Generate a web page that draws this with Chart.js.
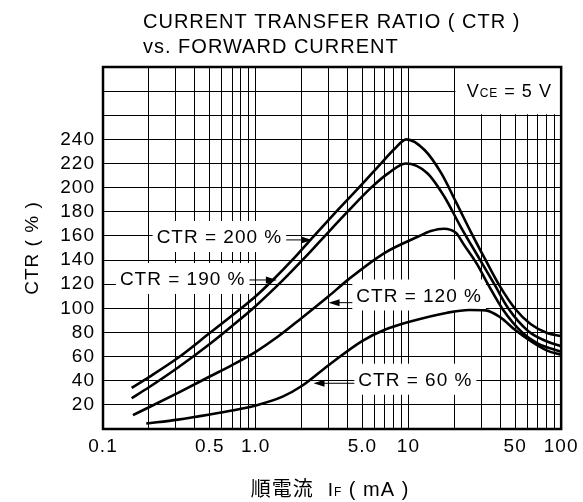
<!DOCTYPE html>
<html>
<head>
<meta charset="utf-8">
<script src="https://cdn.jsdelivr.net/npm/chart.js@4.4.1/dist/chart.umd.min.js"></script>
<style>
  html, body { margin: 0; padding: 0; background: #fff; }
  canvas { display: block; }
</style>
</head>
<body>
<canvas id="ctrChart" width="583" height="502"></canvas>
<script>
// curva "CTR = 200 %" (IF em mA, CTR em %)
const ifA  = [0.154, 0.2, 0.31, 0.5, 0.7, 1.0, 1.32, 1.75, 2.29, 3.39, 4.82, 6.6, 8.1, 9.7, 12.8, 16.4, 20.5, 25.7, 31.4, 39.4, 50.4, 63, 81, 100];
const ctrA = [34, 43, 59, 79.5, 94, 110, 124.5, 140.5, 157, 180.5, 201, 220, 232, 240, 231, 212, 188, 163, 142, 119, 99, 87, 79.5, 77];

// curva "CTR = 190 %"
const ifB  = [0.154, 0.2, 0.31, 0.5, 0.7, 1.0, 1.53, 2.05, 2.64, 4.04, 5.7, 7.4, 9.6, 13.3, 17.2, 21.9, 29.5, 36.5, 45, 61, 81, 100];
const ctrB = [25.5, 34.6, 51, 70.5, 85.4, 102, 124.2, 140.8, 155.7, 180.7, 200, 212, 220, 212, 192.5, 168, 140, 120, 100, 81, 72.5, 68.5];

// curva "CTR = 120 %"
const ifC  = [0.157, 0.2, 0.31, 0.5, 0.7, 1.0, 1.4, 2.0, 3.0, 4.05, 7.0, 11.6, 14, 17, 20.5, 23, 28, 33.5, 41.3, 55.6, 70, 100];
const ctrC = [11.5, 18, 30, 43.5, 53, 64, 76.6, 92, 110, 124, 146, 159.5, 164, 166, 162.5, 153, 137, 119, 99.5, 80, 71, 64];

// curva "CTR = 60 %"
const ifD  = [0.192, 0.31, 0.5, 0.7, 1.0, 1.5, 2.0, 3.0, 5.0, 7.0, 10, 18, 25, 32, 40, 50, 63, 81, 100];
const ctrD = [4.5, 7.8, 12, 15.3, 19.5, 26.8, 35.6, 52.9, 73.1, 82.2, 88.6, 96.4, 98.6, 98.3, 92.5, 82, 73, 65, 61.5];

const curveNames = ['CTR = 200 %', 'CTR = 190 %', 'CTR = 120 %', 'CTR = 60 %'];

// eixos
const xTickValues = [0.1, 0.5, 1, 5, 10, 50, 100];
const xTickLabels = ['0.1', '0.5', '1.0', '5.0', '10', '50', '100'];
const yTickLabels = [20, 40, 60, 80, 100, 120, 140, 160, 180, 200, 220, 240];

// rótulos das curvas: início do texto e ponta da seta, em coordenadas do gráfico
const labelAt  = [[0.2245, 158.3], [0.129, 123.5], [4.56, 109.8], [4.7, 40]];
const arrowTip = [[2.34, 156.7], [1.376, 123.5], [3.0, 104.7], [2.39, 37.9]];
const vceBox = { xMin: 20, xMax: 100, yMin: 260, yMax: 300 };

const FAMILY = '"Liberation Sans", Arial, sans-serif';
const font = (size) => `${size}px ${FAMILY}`;

Chart.defaults.font.family = FAMILY;
Chart.defaults.color = '#000';

// linhas de grade logarítmicas 0.1 .. 100
const gridIF = [];
for (let e = -1; e <= 1; e++) {
  for (let m = 1; m <= 9; m++) gridIF.push(+(m * Math.pow(10, e)).toPrecision(3));
}
gridIF.push(100);

function toPoints(xs, ys) {
  return xs.map((x, i) => ({ x, y: ys[i] }));
}

// desenha texto com partes em tamanhos diferentes (subscritos), centrado em cx
function drawRuns(ctx, runs, cx, cy) {
  let total = 0;
  runs.forEach(r => { ctx.font = r.font; r.w = ctx.measureText(r.text).width; total += r.w + (r.gap || 0); });
  let x = cx - total / 2;
  ctx.textAlign = 'left';
  ctx.textBaseline = 'alphabetic';
  runs.forEach(r => {
    ctx.font = r.font;
    ctx.fillText(r.text, x, cy);
    x += r.w + (r.gap || 0);
  });
}

const annotations = {
  id: 'annotations',
  beforeDraw(chart) {
    chart.ctx.letterSpacing = '1px';
  },
  beforeDatasetsDraw(chart) {
    const { ctx, chartArea: area, scales: { x, y } } = chart;
    ctx.save();
    ctx.letterSpacing = '1px';

    // caixa V_CE
    const bx = x.getPixelForValue(vceBox.xMin) + 1;
    const by = y.getPixelForValue(vceBox.yMin) - 1;
    ctx.fillStyle = '#fff';
    ctx.fillRect(bx, area.top, area.right - bx, by - area.top);
    ctx.fillStyle = '#000';
    drawRuns(ctx, [
      { text: 'V', font: font(18) },
      { text: 'CE', font: font(12) },
      { text: ' = 5 V', font: font(18) }
    ], (bx + area.right) / 2 + 1, (area.top + by) / 2 + 6.5);

    // rótulos das curvas com fundo branco
    ctx.font = font(19);
    labelAt.forEach((p, i) => {
      const tx = x.getPixelForValue(p[0]);
      const ty = y.getPixelForValue(p[1]);
      const w = ctx.measureText(curveNames[i]).width;
      const box = { l: tx - 4, r: tx + w + 4, t: ty - 17, b: ty + 14 };
      ctx.fillStyle = '#fff';
      ctx.fillRect(box.l, box.t, box.r - box.l, box.b - box.t);
      ctx.fillStyle = '#000';
      ctx.textAlign = 'left';
      ctx.textBaseline = 'middle';
      ctx.fillText(curveNames[i], tx, ty);

      // seta até a curva
      const hx = x.getPixelForValue(arrowTip[i][0]);
      const hy = y.getPixelForValue(arrowTip[i][1]);
      const sx = hx > box.r ? box.r : box.l;
      const dir = hx > sx ? 1 : -1;
      ctx.strokeStyle = '#000';
      ctx.lineWidth = 1;
      ctx.beginPath();
      ctx.moveTo(sx, hy);
      ctx.lineTo(hx - dir * 8, hy);
      ctx.stroke();
      ctx.beginPath();
      ctx.moveTo(hx, hy);
      ctx.lineTo(hx - dir * 11, hy - 3.5);
      ctx.lineTo(hx - dir * 11, hy + 3.5);
      ctx.closePath();
      ctx.fill();
    });
    ctx.restore();
  },
  afterDatasetsDraw(chart) {
    const { ctx, chartArea: area } = chart;
    ctx.save();
    ctx.strokeStyle = '#000';
    ctx.lineWidth = 2.5;
    ctx.strokeRect(area.left, area.top, area.right - area.left, area.bottom - area.top);
    ctx.restore();
  },
  afterDraw(chart) {
    const { ctx } = chart;
    ctx.save();
    ctx.letterSpacing = '1px';
    ctx.fillStyle = '#000';
    ctx.font = font(20);
    ctx.textAlign = 'left';
    ctx.textBaseline = 'middle';
    ctx.fillText('CURRENT TRANSFER RATIO ( CTR )', 143, 22);
    ctx.fillText('vs. FORWARD CURRENT', 143, 47);

    // título do eixo x
    drawRuns(ctx, [
      { text: '順電流', font: '20px "Noto Sans CJK JP", sans-serif', gap: 14 },
      { text: 'I', font: font(19) },
      { text: 'F', font: font(12) },
      { text: ' ( mA )', font: font(20) }
    ], 330, 496);
    ctx.restore();
  }
};

const ctx = document.getElementById('ctrChart').getContext('2d');
new Chart(ctx, {
  type: 'line',
  data: {
    datasets: [
      { label: curveNames[0], data: toPoints(ifA, ctrA) },
      { label: curveNames[1], data: toPoints(ifB, ctrB) },
      { label: curveNames[2], data: toPoints(ifC, ctrC) },
      { label: curveNames[3], data: toPoints(ifD, ctrD) }
    ].map(d => ({
      ...d,
      borderColor: '#000',
      borderWidth: 2.6,
      pointRadius: 0,
      fill: false,
      cubicInterpolationMode: 'monotone'
    }))
  },
  options: {
    responsive: false,
    animation: false,
    devicePixelRatio: 1,
    layout: { padding: { top: 67, right: 19, left: 0, bottom: 0 } },
    plugins: {
      legend: { display: false },
      tooltip: { enabled: false },
      title: { display: false }
    },
    scales: {
      x: {
        type: 'logarithmic',
        min: 0.1,
        max: 100,
        afterBuildTicks: (axis) => { axis.ticks = gridIF.map(v => ({ value: v })); },
        afterFit: (axis) => { axis.height = 73; },
        ticks: {
          autoSkip: false,
          maxRotation: 0,
          padding: 6,
          font: { size: 19 },
          color: '#000',
          callback: (v) => {
            const i = xTickValues.findIndex(t => Math.abs(t - v) < 1e-9);
            return i >= 0 ? xTickLabels[i] : '';
          }
        },
        grid: { color: '#000', lineWidth: 1, drawTicks: false },
        border: { display: false }
      },
      y: {
        min: 0,
        max: 300,
        afterFit: (axis) => { axis.width = 103; },
        ticks: {
          stepSize: 20,
          autoSkip: false,
          padding: 8,
          font: { size: 19 },
          color: '#000',
          callback: (v) => yTickLabels.includes(v) ? String(v) : ''
        },
        grid: { color: '#000', lineWidth: 1, drawTicks: false },
        border: { display: false },
        title: {
          display: true,
          text: 'CTR ( % )',
          font: { size: 19 },
          color: '#000',
          padding: { top: 21, bottom: 0 }
        }
      }
    }
  },
  plugins: [annotations]
});
</script>
</body>
</html>
